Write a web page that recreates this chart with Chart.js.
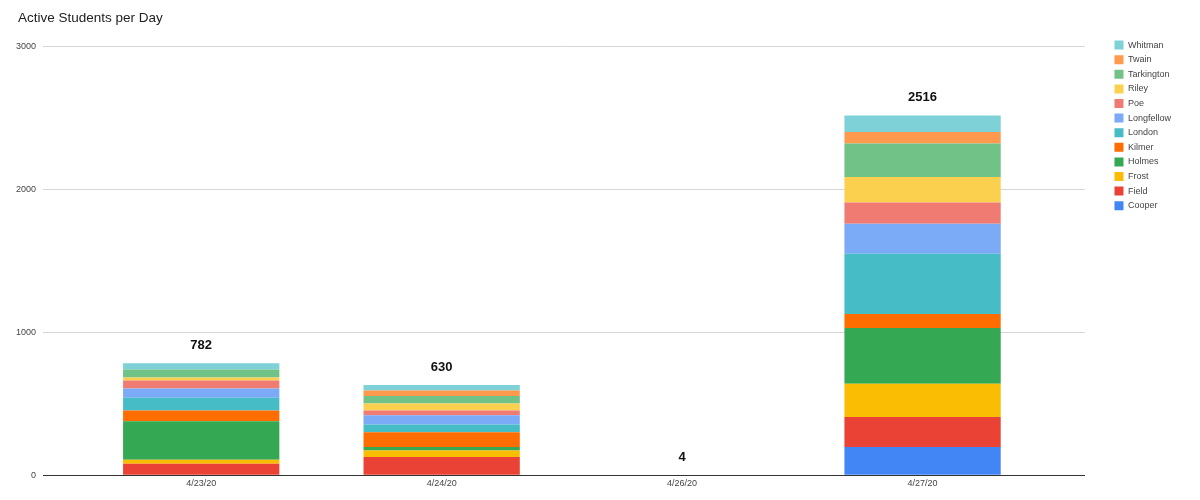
<!DOCTYPE html>
<html>
<head>
<meta charset="utf-8">
<script src="https://cdn.jsdelivr.net/npm/chart.js@4"></script>
<style>
  html, body { margin: 0; padding: 0; background: #fff; }
  #wrap { width: 1200px; height: 500px; }
</style>
</head>
<body>
<div id="wrap"><canvas id="chart"></canvas></div>
<script>
// categories + one array per school
var days = ["4/23/20", "4/24/20", "4/26/20", "4/27/20"];

var cooper     = [0,   0,   0, 197];
var field      = [80,  127, 0, 210];
var frost      = [28,  46,  0, 233];
var holmes     = [270, 24,  4, 390];
var kilmer     = [75,  104, 0, 98];
var london     = [89,  54,  0, 420];
var longfellow = [65,  65,  0, 210];
var poe        = [56,  33,  0, 149];
var riley      = [21,  49,  0, 178];
var tarkington = [56,  51,  0, 235];
var twain      = [0,   40,  0, 80];
var whitman    = [42,  37,  0, 116];

var yTicks = [0, 1000, 2000, 3000];

var font = "Arial, 'Liberation Sans', sans-serif";

// Total label over each stack
var totalsPlugin = {
    id: 'totals',
    afterDatasetsDraw: function(chart) {
        var c = chart.ctx;
        var xs = chart.scales.x, ys = chart.scales.y;
        c.save();
        c.font = "bold 13px " + font;
        c.fillStyle = '#111';
        c.textAlign = 'center';
        c.textBaseline = 'middle';
        days.forEach(function(d, i) {
            var sum = 0;
            chart.data.datasets.forEach(function(ds) { sum += ds.data[i]; });
            c.fillText(String(sum), xs.getPixelForValue(i), ys.getPixelForValue(sum) - 17.5);
        });
        c.restore();
    }
};

// nudge legend (away from plot, down to top gridline) and title
var boxShift = {
    id: 'boxShift',
    beforeInit: function(chart) {
        var lg = chart.legend;
        if (lg) {
            var fit = lg.fit, draw = lg.draw;
            lg.fit = function() {
                fit.call(this);
                if (!this.isHorizontal()) this.width += 23;
            };
            lg.draw = function() {
                var c = this.ctx;
                c.save();
                c.translate(24, 27);
                draw.call(this);
                c.restore();
            };
        }
        var tb = chart.titleBlock;
        if (tb) {
            var tdraw = tb.draw;
            tb.draw = function() {
                var c = this.ctx;
                c.save();
                c.translate(6, 0);
                tdraw.call(this);
                c.restore();
            };
        }
    }
};

var ctx = document.getElementById("chart");

var chartGraph = new Chart(ctx, {
    type: 'bar',
    data: {
        labels: days,
        datasets: [
            { label: 'Cooper',     data: cooper,     backgroundColor: '#4285f4' },
            { label: 'Field',      data: field,      backgroundColor: '#ea4335' },
            { label: 'Frost',      data: frost,      backgroundColor: '#fbbc04' },
            { label: 'Holmes',     data: holmes,     backgroundColor: '#34a853' },
            { label: 'Kilmer',     data: kilmer,     backgroundColor: '#ff6d01' },
            { label: 'London',     data: london,     backgroundColor: '#46bdc6' },
            { label: 'Longfellow', data: longfellow, backgroundColor: '#7baaf7' },
            { label: 'Poe',        data: poe,        backgroundColor: '#f07b72' },
            { label: 'Riley',      data: riley,      backgroundColor: '#fcd04f' },
            { label: 'Tarkington', data: tarkington, backgroundColor: '#71c287' },
            { label: 'Twain',      data: twain,      backgroundColor: '#ff994d' },
            { label: 'Whitman',    data: whitman,    backgroundColor: '#7ed1d7' }
        ]
    },
    options: {
        responsive: true,
        maintainAspectRatio: false,
        animation: false,
        datasets: {
            bar: { barPercentage: 0.65, categoryPercentage: 1.0, borderWidth: 0 }
        },
        layout: { padding: { left: 12, right: 20, top: 8, bottom: 8 } },
        scales: {
            x: {
                stacked: true,
                grid: { display: false, drawTicks: false },
                border: { color: '#333', width: 1 },
                ticks: { font: { size: 9, family: font }, color: '#444', padding: 3 },
                // extra inner margin on both sides, like the sheet chart
                afterUpdate: function(axis) {
                    axis._startValue = -0.658;
                    axis._valueRange = days.length - 1 + 0.658 + 0.675;
                }
            },
            y: {
                stacked: true,
                min: 0,
                max: 3000,
                afterBuildTicks: function(axis) {
                    axis.ticks = yTicks.map(function(v) { return { value: v }; });
                },
                afterFit: function(axis) { axis.width = 31; },
                grid: {
                    color: function(c) { return c.tick.value === 0 ? '#333' : '#d6d6d6'; },
                    drawTicks: false
                },
                border: { display: false },
                ticks: {
                    font: { size: 9, family: font },
                    color: '#444',
                    padding: 7,
                    callback: function(value) { return String(value); }
                }
            }
        },
        plugins: {
            title: {
                display: true,
                text: 'Active Students per Day',
                align: 'start',
                color: '#222',
                font: { size: 13.5, weight: 'normal', family: font },
                padding: { top: 2, bottom: 20 }
            },
            legend: {
                position: 'right',
                align: 'start',
                reverse: true,
                labels: {
                    boxWidth: 9,
                    boxHeight: 9,
                    padding: 5.6,
                    color: '#444',
                    font: { size: 9, family: font }
                }
            },
            tooltip: { enabled: false }
        }
    },
    plugins: [totalsPlugin, boxShift]
});
</script>
</body>
</html>
